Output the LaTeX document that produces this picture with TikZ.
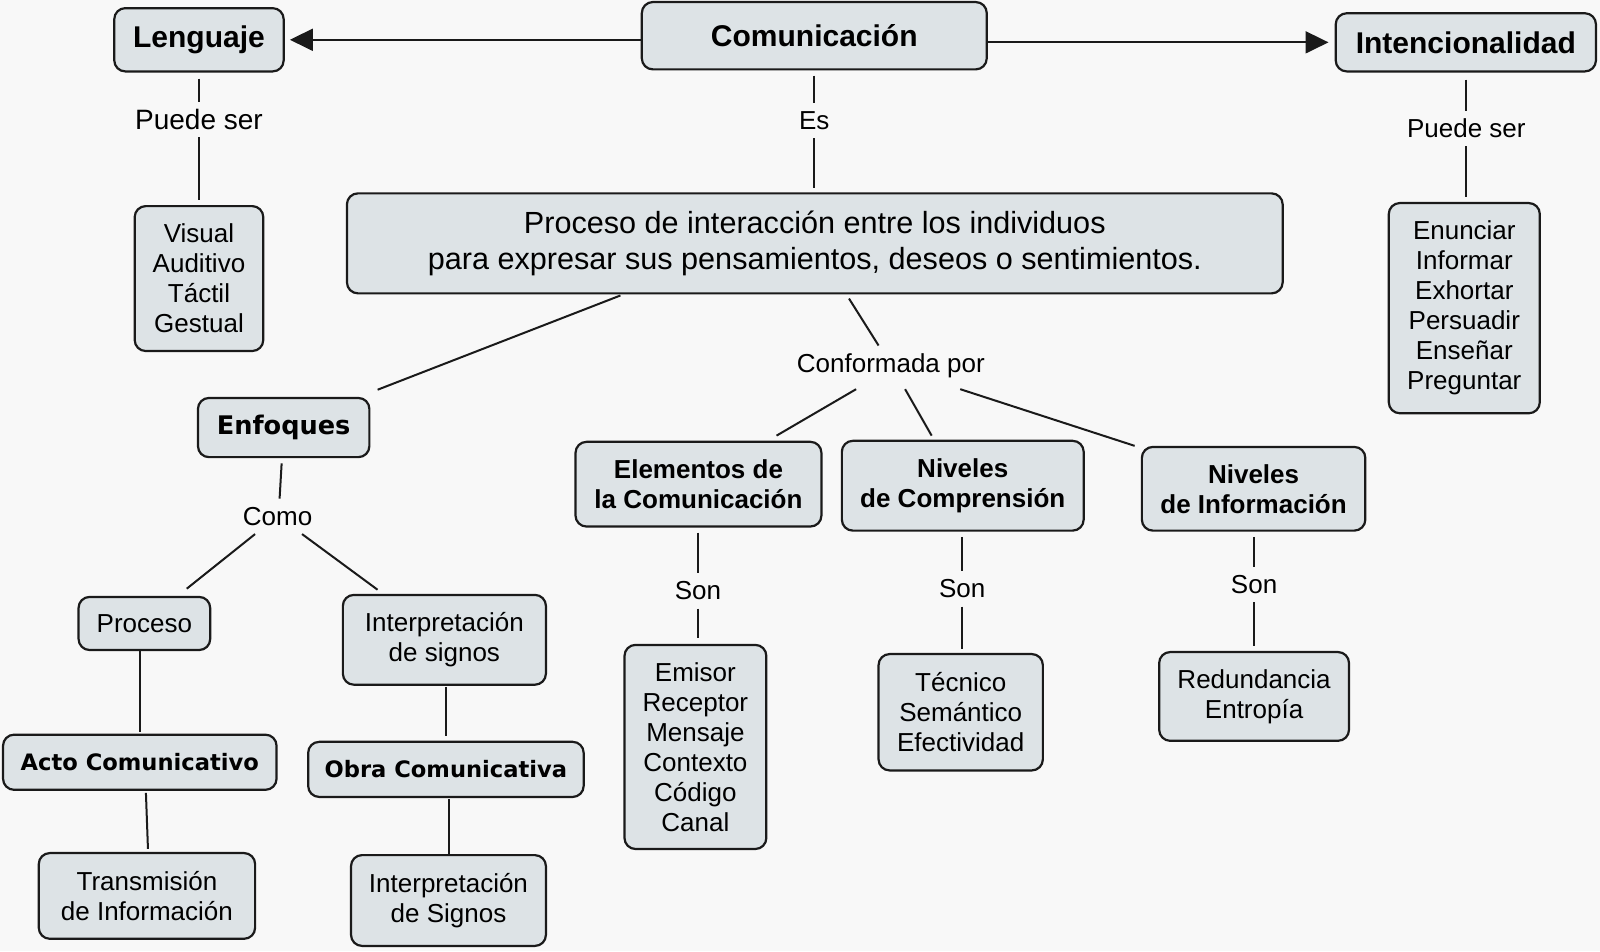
\documentclass[tikz,border=0pt]{standalone}
\usepackage{fontspec}
\setmainfont{Liberation Sans}
\newfontfamily\vfont{DejaVu Sans}
\usetikzlibrary{arrows.meta,calc}
\newdimen\unitpx
\unitpx=0.5102pt
\definecolor{bgc}{HTML}{F8F8F8}
\definecolor{boxc}{HTML}{DDE3E6}
\definecolor{linec}{HTML}{1A1A1A}
\newcommand\fsz[2]{\fontsize{#1}{#2}\selectfont}
\tikzset{
  box/.style={draw=linec, fill=boxc, rounded corners=5.5pt, line width=1.1pt, align=center, inner sep=0pt, text=black},
  sz/.style n args={2}{minimum width=#1\unitpx, minimum height=#2\unitpx},
  title/.style={font=\fsz{15pt}{17pt}\bfseries},
  btext/.style={font=\fsz{13pt}{15pt}\bfseries},
  vtext/.style={font=\vfont\bfseries\fsz{11.3pt}{13pt}},
  rtext/.style={font=\fsz{13pt}{15pt}},
  lbl/.style={inner sep=0pt, minimum height=34\unitpx, font=\fsz{13pt}{15pt}, text=black},
  conn/.style={draw=linec, line width=1pt},
  arr/.style={conn, -{Triangle[length=11.5pt,width=11pt]}},
}
\begin{document}
\begin{tikzpicture}[x=0.5102pt, y=-0.5102pt]
\fill[bgc] (0,0) rectangle (1568,932);
\useasboundingbox (0,0) rectangle (1568,932);

% top row
\node[box, title, sz={166}{62}] (len) at (195,39) {Lenguaje};
\node[box, title, sz={338}{66}] (com) at (798,35) {Comunicación};
\node[box, title, sz={255}{57}] (int) at (1436.5,41.5) {Intencionalidad};

% second level
\node[box, rtext, sz={126}{142}] (vis) at (195,273) {Visual\\Auditivo\\Táctil\\Gestual};
\node[box, font=\fsz{15.3pt}{17.9pt}, sz={917}{98}] (main) at (798.5,238.5) {Proceso de interacción entre los individuos\\para expresar sus pensamientos, deseos o sentimientos.};
\node[box, rtext, sz={148}{206}] (intl) at (1435,302) {Enunciar\\Informar\\Exhortar\\Persuadir\\Enseñar\\Preguntar};

% left branch
\node[box, font=\vfont\bfseries\fsz{12.8pt}{15pt}, sz={168}{58}] (enf) at (278,419) {Enfoques};
\node[box, rtext, sz={129}{52}] (proc) at (141.5,611) {Proceso};
\node[box, rtext, sz={199}{88}] (isig) at (435.5,627) {Interpretación\\de signos};
\node[box, vtext, sz={268}{54}] (acto) at (137,747) {Acto Comunicativo};
\node[box, vtext, sz={270}{54}] (obra) at (437,754) {Obra Comunicativa};
\node[box, rtext, sz={212}{84}] (trans) at (144,878) {Transmisión\\de Información};
\node[box, rtext, sz={191}{89}] (isig2) at (439.5,882.5) {Interpretación\\de Signos};

% right branch
\node[box, btext, sz={241}{83}] (elem) at (684.5,474.5) {Elementos de\\la Comunicación};
\node[box, btext, sz={237}{88}] (ncomp) at (943.5,476) {Niveles\\de Comprensión};
\node[box, btext, sz={219}{82}] (ninfo) at (1228.5,479) {Niveles\\de Información};
\node[box, rtext, sz={139}{200}] (emis) at (681.5,732) {Emisor\\Receptor\\Mensaje\\Contexto\\Código\\Canal};
\node[box, rtext, sz={161}{114}] (tec) at (941.5,698) {Técnico\\Semántico\\Efectividad};
\node[box, rtext, sz={186}{87}] (red) at (1229,682.5) {Redundancia\\Entropía};

% link labels
\node[lbl, font=\fsz{14pt}{16pt}] (l1) at (195,117) {Puede ser};
\node[lbl] (l2) at (798,118) {Es};
\node[lbl] (l3) at (1437,126) {Puede ser};
\node[lbl] (como) at (272,506) {Como};
\node[lbl] (conf) at (873,358) {Conformada por};
\node[lbl] (s1) at (684,579) {Son};
\node[lbl] (s2) at (943,577) {Son};
\node[lbl] (s3) at (1229,573) {Son};

% arrows
\draw[arr] (com.west |- len.east) -- ($(len.east)+(5,0)$);
\draw[arr] (com.east |- int.west) -- ($(int.west)+(-6,0)$);

% vertical links
\draw[conn] ($(len.south)+(0,6)$) -- (l1.north);
\draw[conn] (l1.south) -- ($(vis.north)+(0,-5)$);
\draw[conn] ($(com.south)+(0,5)$) -- (l2.north);
\draw[conn] (l2.south) -- ($(main.north)+(-0.5,-4)$);
\draw[conn] ($(l3.north |- int.south)+(0,7)$) -- (l3.north);
\draw[conn] (l3.south) -- ($(l3.south |- intl.north)+(0,-5)$);

% left branch links
\draw[conn] ($(main.south)+(-190.5,1)$) -- ($(enf.north east)+(7,-7)$);
\draw[conn] ($(enf.south)+(-2,5)$) -- ($(como.north)+(2,0)$);
\draw[conn] ($(como.south)+(-22,0)$) -- ($(proc.north)+(41.5,-7)$);
\draw[conn] ($(como.south)+(24,0)$) -- ($(isig.north)+(-65.5,-4)$);
\draw[conn] ($(proc.south)+(-4.5,0)$) -- ($(acto.north)+(0,-2)$);
\draw[conn] ($(isig.south)+(1.5,1)$) -- ($(obra.north)+(0,-5)$);
\draw[conn] ($(acto.south)+(6,2)$) -- ($(trans.north)+(1,-3)$);
\draw[conn] ($(obra.south)+(3,1)$) -- ($(isig2.north)+(0.5,0)$);

% right branch links
\draw[conn] ($(main.south)+(33.5,4)$) -- ($(conf.north)+(-12,-2)$);
\draw[conn] ($(conf.south)+(-34,6)$) -- ($(elem.north)+(76.5,-5)$);
\draw[conn] ($(conf.south)+(14,6)$) -- ($(ncomp.north)+(-30.5,-4)$);
\draw[conn] ($(conf.south)+(68,6)$) -- ($(ninfo.north west)+(-6,0)$);
\draw[conn] ($(s1.north |- elem.south)+(0,5)$) -- (s1.north);
\draw[conn] (s1.south) -- ($(s1.south |- emis.north)+(0,-6)$);
\draw[conn] ($(s2.north |- ncomp.south)+(0,5)$) -- (s2.north);
\draw[conn] (s2.south) -- ($(s2.south |- tec.north)+(0,-4)$);
\draw[conn] ($(s3.north |- ninfo.south)+(0,5)$) -- (s3.north);
\draw[conn] (s3.south) -- ($(s3.south |- red.north)+(0,-5)$);
\end{tikzpicture}
\end{document}
